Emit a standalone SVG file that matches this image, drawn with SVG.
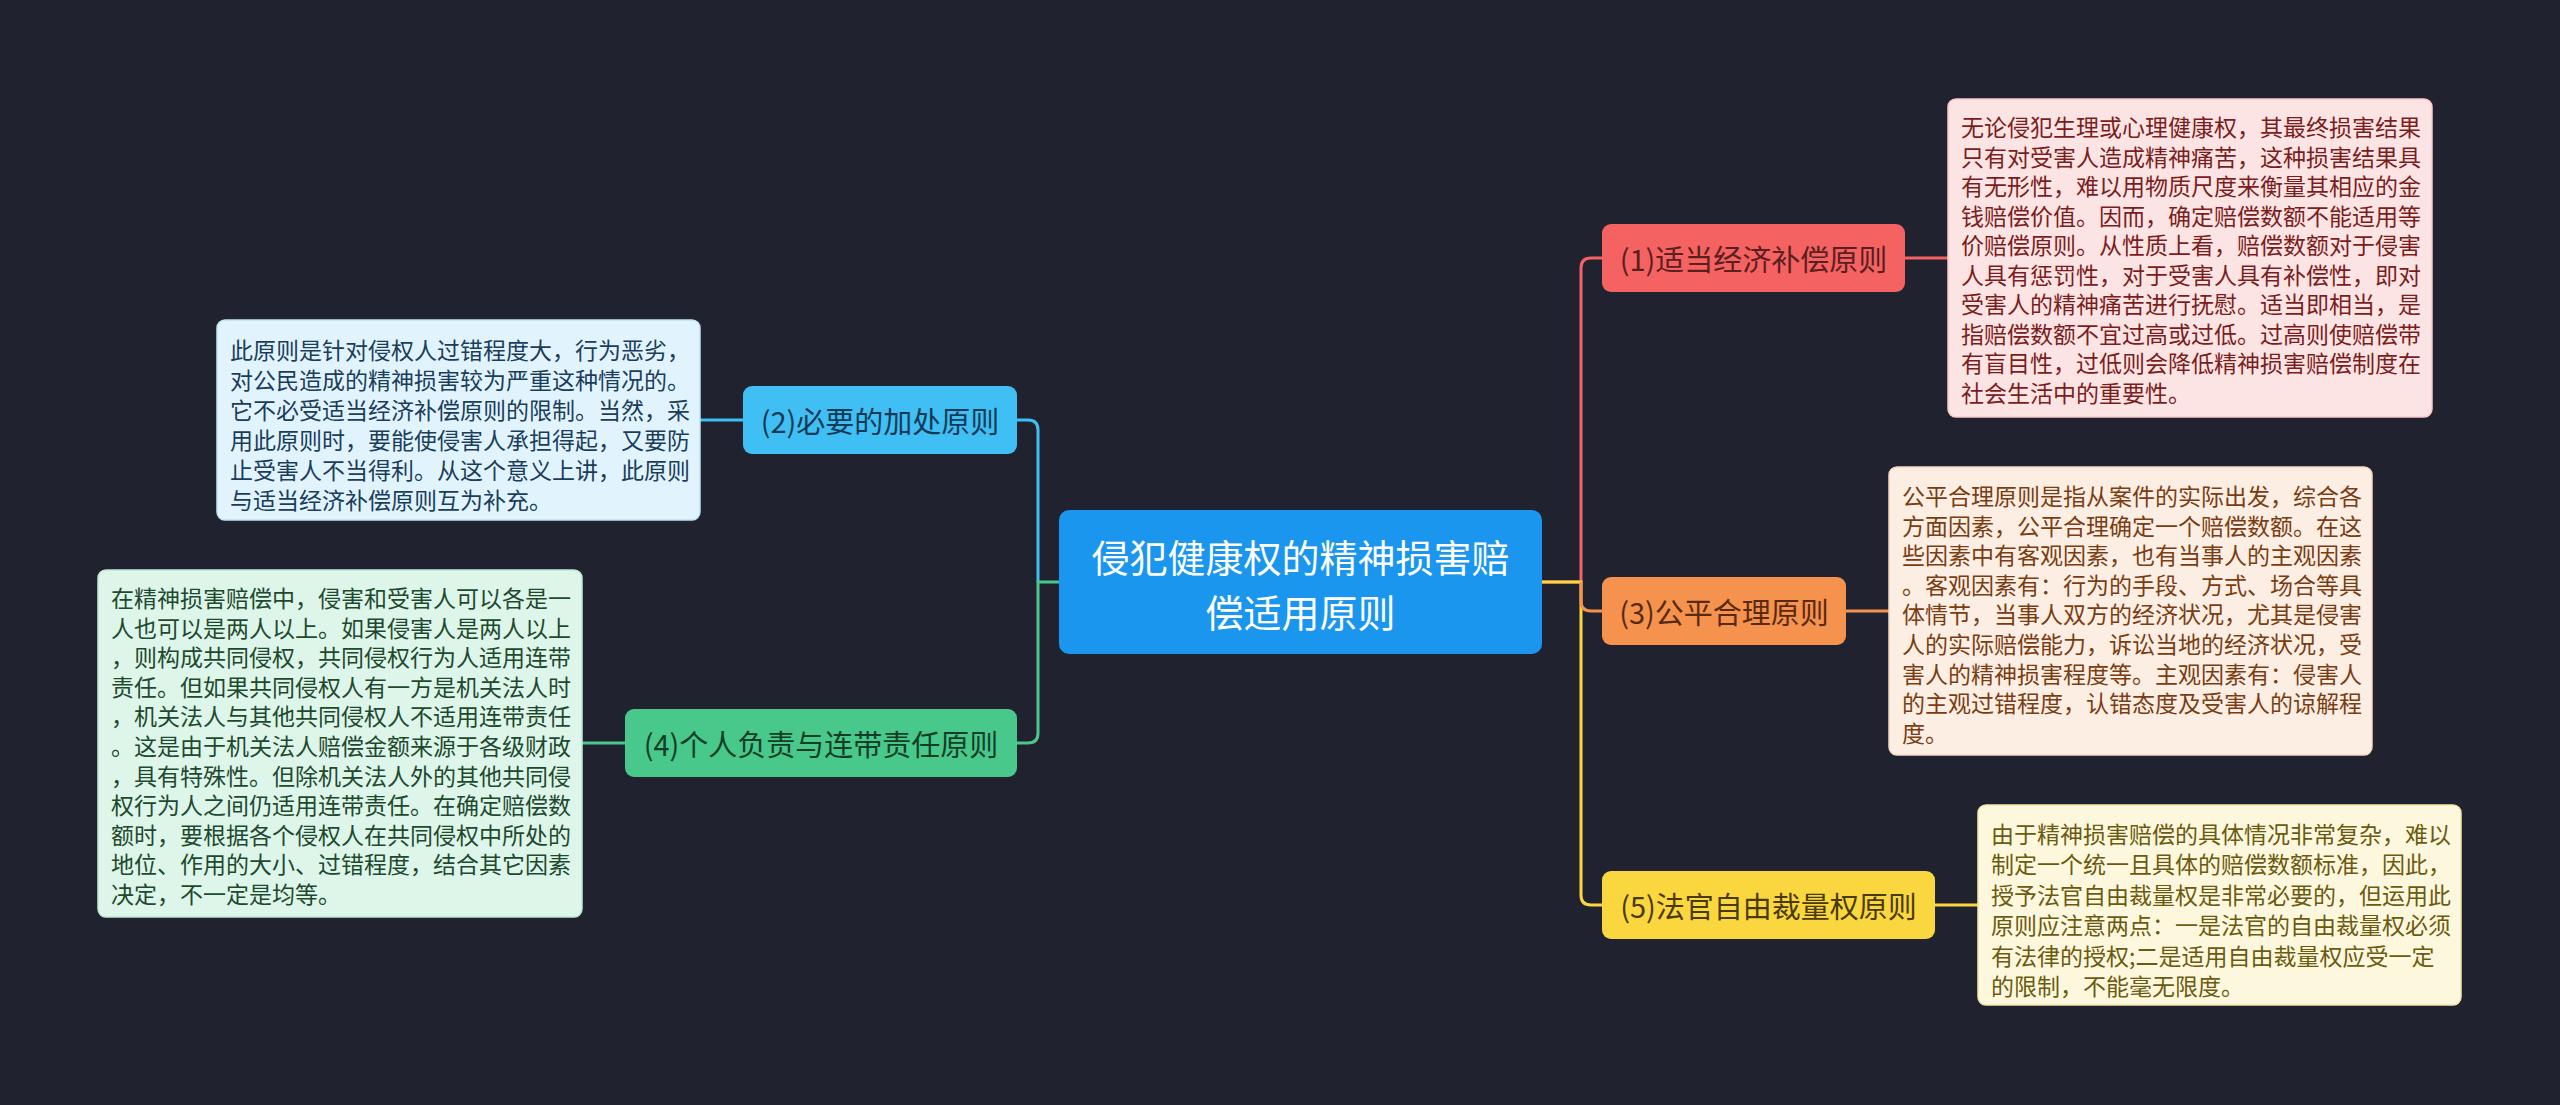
<svg xmlns="http://www.w3.org/2000/svg" width="2560" height="1105" viewBox="0 0 2560 1105">
<style>
text{font-family:"Noto Sans CJK SC","Noto Sans",sans-serif;dominant-baseline:central}
.root{font-size:38px;fill:#fff;text-anchor:middle}
.mid{font-size:29px;text-anchor:middle}
.leaf{font-size:23px}
.ln{fill:none;stroke-width:3}
</style>
<rect width="2560" height="1105" fill="#20232f"/>
<g id="connectors">
<path class="ln" stroke="#f46262" d="M1542 582H1581V268Q1581 258 1591 258H1602"/>
<path class="ln" stroke="#fbd73f" d="M1542 582H1581V895Q1581 905 1591 905H1602"/>
<path class="ln" stroke="#f5924e" d="M1581 582V601Q1581 611 1591 611H1602"/>
<path class="ln" stroke="#40bff5" d="M1038 582V430Q1038 420 1028 420H1017"/>
<path class="ln" stroke="#48c98b" d="M1059 582H1038V733Q1038 743 1028 743H1017"/>
<path class="ln" stroke="#f46262" d="M1905 258H1948"/>
<path class="ln" stroke="#f5924e" d="M1846 611H1889"/>
<path class="ln" stroke="#fbd73f" d="M1935 905H1978"/>
<path class="ln" stroke="#40bff5" d="M700 420H743"/>
<path class="ln" stroke="#48c98b" d="M582 743H625"/>
</g>
<g id="root">
<rect x="1059" y="510" width="483" height="144" rx="10" fill="#1a96ee"/>
<text class="root" x="1300.5" y="555">侵犯健康权的精神损害赔</text>
<text class="root" x="1300.5" y="610">偿适用原则</text>
</g>
<g id="n1">
<rect x="1602" y="224" width="303" height="68" rx="9" fill="#f46262"/>
<text class="mid" x="1753.5" y="258" fill="#5c1f1f">(1)适当经济补偿原则</text>
</g>
<g id="n3">
<rect x="1602" y="577" width="244" height="68" rx="9" fill="#f5924e"/>
<text class="mid" x="1724" y="611" fill="#5a2a10">(3)公平合理原则</text>
</g>
<g id="n5">
<rect x="1602" y="871" width="333" height="68" rx="9" fill="#fbd73f"/>
<text class="mid" x="1768.5" y="905" fill="#4a3a05">(5)法官自由裁量权原则</text>
</g>
<g id="n2">
<rect x="743" y="386" width="274" height="68" rx="9" fill="#40bff5"/>
<text class="mid" x="880" y="420" fill="#123a55">(2)必要的加处原则</text>
</g>
<g id="n4">
<rect x="625" y="709" width="392" height="68" rx="9" fill="#48c98b"/>
<text class="mid" x="821" y="743" fill="#143d27">(4)个人负责与连带责任原则</text>
</g>
<g id="leaf1">
<rect x="1948" y="99" width="484" height="318" rx="8" fill="#fde4e4" stroke="#f7c9c9" stroke-width="1.5"/>
<text class="leaf" fill="#7b1d1d">
<tspan x="1961" y="126">无论侵犯生理或心理健康权，其最终损害结果</tspan>
<tspan x="1961" y="155.5">只有对受害人造成精神痛苦，这种损害结果具</tspan>
<tspan x="1961" y="185">有无形性，难以用物质尺度来衡量其相应的金</tspan>
<tspan x="1961" y="214.5">钱赔偿价值。因而，确定赔偿数额不能适用等</tspan>
<tspan x="1961" y="244">价赔偿原则。从性质上看，赔偿数额对于侵害</tspan>
<tspan x="1961" y="273.5">人具有惩罚性，对于受害人具有补偿性，即对</tspan>
<tspan x="1961" y="303">受害人的精神痛苦进行抚慰。适当即相当，是</tspan>
<tspan x="1961" y="332.5">指赔偿数额不宜过高或过低。过高则使赔偿带</tspan>
<tspan x="1961" y="362">有盲目性，过低则会降低精神损害赔偿制度在</tspan>
<tspan x="1961" y="391.5">社会生活中的重要性。</tspan>
</text>
</g>
<g id="leaf3">
<rect x="1889" y="467" width="483" height="288" rx="8" fill="#fdeee4" stroke="#f7d8c4" stroke-width="1.5"/>
<text class="leaf" fill="#7a3d12">
<tspan x="1902" y="495">公平合理原则是指从案件的实际出发，综合各</tspan>
<tspan x="1902" y="524.6">方面因素，公平合理确定一个赔偿数额。在这</tspan>
<tspan x="1902" y="554.2">些因素中有客观因素，也有当事人的主观因素</tspan>
<tspan x="1902" y="583.8">。客观因素有：行为的手段、方式、场合等具</tspan>
<tspan x="1902" y="613.4">体情节，当事人双方的经济状况，尤其是侵害</tspan>
<tspan x="1902" y="643">人的实际赔偿能力，诉讼当地的经济状况，受</tspan>
<tspan x="1902" y="672.6">害人的精神损害程度等。主观因素有：侵害人</tspan>
<tspan x="1902" y="702.2">的主观过错程度，认错态度及受害人的谅解程</tspan>
<tspan x="1902" y="731.8">度。</tspan>
</text>
</g>
<g id="leaf5">
<rect x="1978" y="805" width="483" height="200" rx="8" fill="#fdf8dd" stroke="#f3e6a8" stroke-width="1.5"/>
<text class="leaf" fill="#6b5a0f">
<tspan x="1991" y="833">由于精神损害赔偿的具体情况非常复杂，难以</tspan>
<tspan x="1991" y="863.4">制定一个统一且具体的赔偿数额标准，因此，</tspan>
<tspan x="1991" y="893.8">授予法官自由裁量权是非常必要的，但运用此</tspan>
<tspan x="1991" y="924.2">原则应注意两点：一是法官的自由裁量权必须</tspan>
<tspan x="1991" y="954.6">有法律的授权;二是适用自由裁量权应受一定</tspan>
<tspan x="1991" y="985">的限制，不能毫无限度。</tspan>
</text>
</g>
<g id="leaf2">
<rect x="217" y="320" width="483" height="200" rx="8" fill="#e1f4fd" stroke="#bfe4f6" stroke-width="1.5"/>
<text class="leaf" fill="#1b3d5c">
<tspan x="230" y="349">此原则是针对侵权人过错程度大，行为恶劣，</tspan>
<tspan x="230" y="379">对公民造成的精神损害较为严重这种情况的。</tspan>
<tspan x="230" y="409">它不必受适当经济补偿原则的限制。当然，采</tspan>
<tspan x="230" y="439">用此原则时，要能使侵害人承担得起，又要防</tspan>
<tspan x="230" y="469">止受害人不当得利。从这个意义上讲，此原则</tspan>
<tspan x="230" y="499">与适当经济补偿原则互为补充。</tspan>
</text>
</g>
<g id="leaf4">
<rect x="98" y="570" width="484" height="347" rx="8" fill="#def5ea" stroke="#bfe8d3" stroke-width="1.5"/>
<text class="leaf" fill="#1d4a2e">
<tspan x="111" y="597">在精神损害赔偿中，侵害和受害人可以各是一</tspan>
<tspan x="111" y="626.6">人也可以是两人以上。如果侵害人是两人以上</tspan>
<tspan x="111" y="656.2">，则构成共同侵权，共同侵权行为人适用连带</tspan>
<tspan x="111" y="685.8">责任。但如果共同侵权人有一方是机关法人时</tspan>
<tspan x="111" y="715.4">，机关法人与其他共同侵权人不适用连带责任</tspan>
<tspan x="111" y="745">。这是由于机关法人赔偿金额来源于各级财政</tspan>
<tspan x="111" y="774.6">，具有特殊性。但除机关法人外的其他共同侵</tspan>
<tspan x="111" y="804.2">权行为人之间仍适用连带责任。在确定赔偿数</tspan>
<tspan x="111" y="833.8">额时，要根据各个侵权人在共同侵权中所处的</tspan>
<tspan x="111" y="863.4">地位、作用的大小、过错程度，结合其它因素</tspan>
<tspan x="111" y="893">决定，不一定是均等。</tspan>
</text>
</g>
</svg>
